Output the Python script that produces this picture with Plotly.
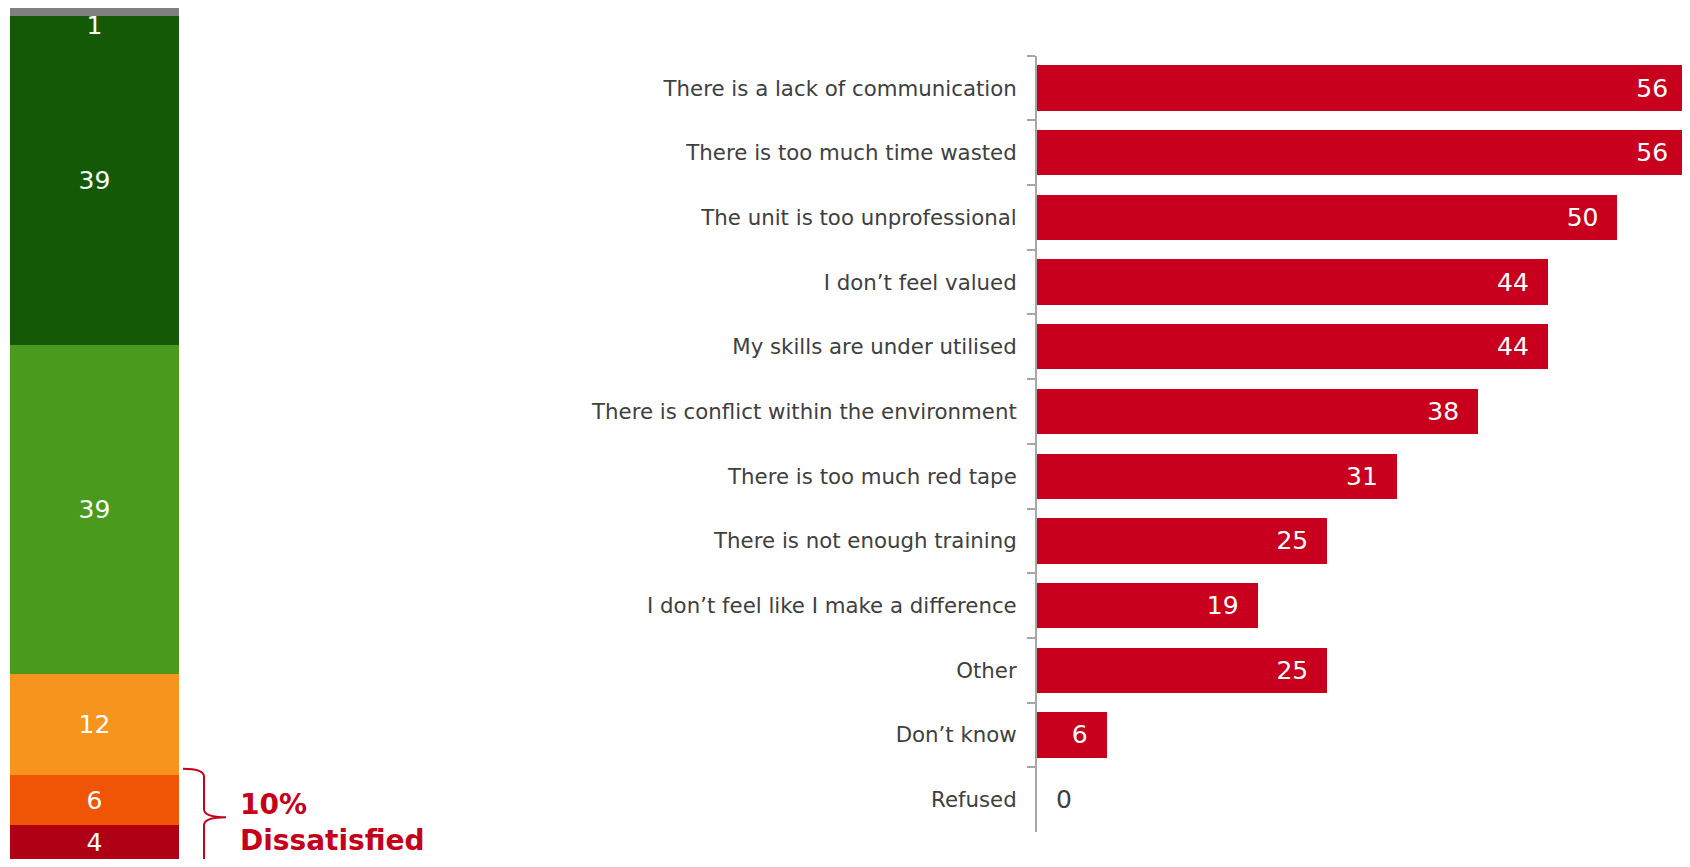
import plotly.graph_objects as go

# target canvas is 1690x867; the page body adds an 8px margin
CW, CH = 1690, 867
M = 8
W, H = CW - M, CH - 2 * M

# ---- data ----
sat_labels = ["Very dissatisfied", "Fairly dissatisfied", "Neither", "Fairly satisfied", "Very satisfied", "Don't know"]
sat_values = [4, 6, 12, 39, 39, 1]
sat_colors = ["#B00016", "#F05506", "#F7941D", "#4A9A1E", "#145A06", "#808080"]

reasons = [
    "There is a lack of communication",
    "There is too much time wasted",
    "The unit is too unprofessional",
    "I don\u2019t feel valued",
    "My skills are under utilised",
    "There is conflict within the environment",
    "There is too much red tape",
    "There is not enough training",
    "I don\u2019t feel like I make a difference",
    "Other",
    "Don\u2019t know",
    "Refused",
]
reason_values = [56, 56, 50, 44, 44, 38, 31, 25, 19, 25, 6, 0]

dissatisfied_n = 2  # bottom two segments form "Dissatisfied"

FONT = "DejaVu Sans"
RED = "#C5001A"


def px(x):
    return (x - M) / W


def py(y):
    return (H - (y - M)) / H


def clamp(v):
    return max(0.0, min(1.0, v))


# ---- layout geometry (paper fractions) ----
left_x = [px(10), px(179)]
left_y = [clamp(py(863)), clamp(py(6))]
right_x = [px(1037), clamp(px(1687))]
right_y = [py(832), py(55.7)]

fig = go.Figure()

total = sum(sat_values)
for i, (lab, v, c) in enumerate(zip(sat_labels, sat_values, sat_colors)):
    top = i == len(sat_values) - 1
    fig.add_trace(go.Bar(
        x=[0], y=[v], name=lab, marker=dict(color=c, line=dict(width=0)),
        width=1, text=[str(v)], textposition="inside", textangle=0,
        insidetextanchor="end" if top else "middle",
        constraintext="none",
        textfont=dict(color="white", size=25, family=FONT),
        xaxis="x", yaxis="y", showlegend=False, hoverinfo="skip",
    ))

texts = [(f"{v}\u00a0\u00a0" if v > 0 else f"\u00a0\u00a0{v}") for v in reason_values]
fig.add_trace(go.Bar(
    x=reason_values, y=reasons, orientation="h",
    marker=dict(color="#C8001E", line=dict(width=0)),
    text=texts, textangle=0,
    textposition=["inside" if v > 0 else "outside" for v in reason_values],
    insidetextanchor="end",
    insidetextfont=dict(color="white", size=25, family=FONT),
    outsidetextfont=dict(color="#404040", size=25, family=FONT),
    cliponaxis=False,
    xaxis="x2", yaxis="y2", showlegend=False, hoverinfo="skip",
))

fig.update_layout(
    width=W, height=H,
    margin=dict(l=0, r=0, t=0, b=0),
    paper_bgcolor="white", plot_bgcolor="white",
    barmode="stack", bargap=0.3,
    font=dict(family=FONT, color="#404040"),
    xaxis=dict(domain=left_x, range=[-0.5, 0.5], visible=False, fixedrange=True),
    yaxis=dict(domain=left_y, range=[0, total], visible=False, anchor="x"),
    xaxis2=dict(domain=right_x, range=[0, max(reason_values)], visible=False, anchor="y2"),
    yaxis2=dict(domain=right_y, anchor="x2", autorange="reversed", type="category",
                showline=True, linecolor="#A6A6A6", linewidth=2,
                ticks="outside", tickson="boundaries", ticklen=8, tickcolor="#A6A6A6", tickwidth=2,
                tickfont=dict(size=21.3, color="#404040", family=FONT),
                ticklabelstandoff=14, showgrid=False, zeroline=False),
)


# bracket for dissatisfied group (paper coords computed from values)
def ypaper(v):
    return left_y[0] + (left_y[1] - left_y[0]) * v / total


d_val = sum(sat_values[:dissatisfied_n])
y_lo = ypaper(0) - 7 / H
y_hi = ypaper(d_val) + 6 / H
y_mid = (y_lo + y_hi) / 2
bx0 = px(183)
bx1 = px(204)
btip = px(226)
r = 8 / H
path = (
    f"M {bx0},{y_hi} Q {bx1},{y_hi} {bx1},{y_hi - r} "
    f"L {bx1},{y_mid + r} Q {bx1},{y_mid} {btip},{y_mid} "
    f"Q {bx1},{y_mid} {bx1},{y_mid - r} "
    f"L {bx1},{y_lo + r} Q {bx1},{y_lo} {bx0},{y_lo}"
)
fig.add_shape(type="path", path=path, xref="paper", yref="paper",
              line=dict(color=RED, width=2))

fig.add_annotation(
    x=px(238), y=y_mid - 5 / H, xref="paper", yref="paper", xanchor="left", yanchor="middle",
    text=f"<b>{d_val}%<br>Dissatisfied</b>", showarrow=False, align="left",
    font=dict(size=28, color=RED, family=FONT),
)

fig.write_html("out.html")
